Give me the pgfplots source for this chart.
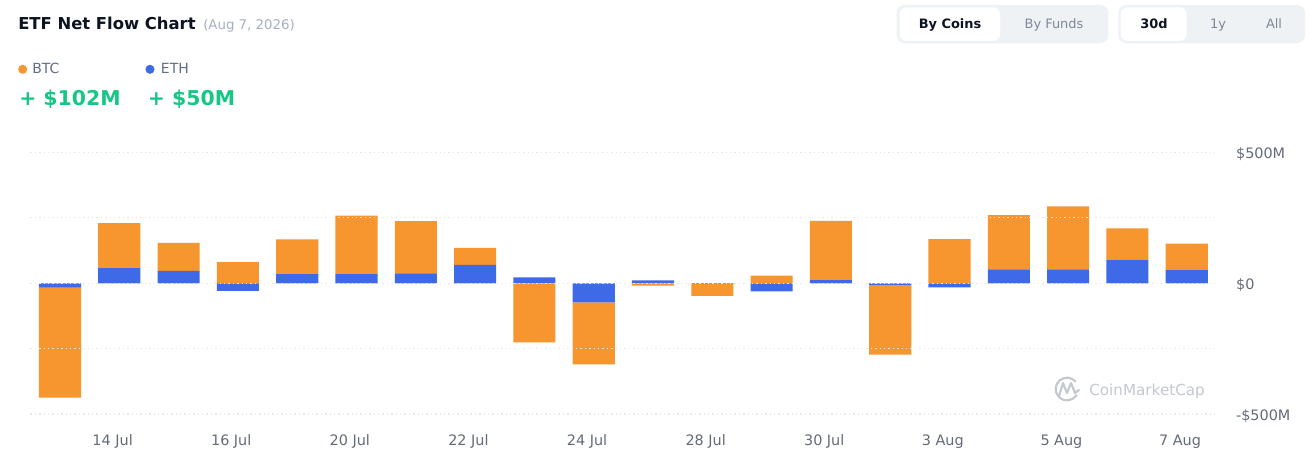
\documentclass[border=0pt]{standalone}
\usepackage{pgfplots}
\pgfplotsset{compat=1.18}
\usepackage{fontspec}
\setmainfont{DejaVu Sans}
\definecolor{btc}{RGB}{247,149,46}
\definecolor{eth}{RGB}{62,106,232}
\definecolor{titlec}{HTML}{0D1421}
\definecolor{datec}{HTML}{A6B0C3}
\definecolor{labc}{HTML}{616E85}
\definecolor{tickc}{HTML}{646B78}
\definecolor{greenc}{HTML}{16C784}
\definecolor{btnbg}{HTML}{EFF2F5}
\definecolor{btntx}{HTML}{7F8899}
\definecolor{gridc}{HTML}{E6E8EC}
\definecolor{wmc}{HTML}{C4C8CF}
\pgfplotsset{
  base/.style={
    at={(22.76pt,43.5pt)}, anchor=south west,
    scale only axis, width=889.5pt, height=196.1pt,
    xmin=-0.5, xmax=19.5, ymin=-500, ymax=500,
    ybar stacked, bar width=0.71,
    axis line style={draw=none},
    major tick length=0pt, minor tick length=0pt,
    clip=false,
  }
}
\begin{document}
\begin{tikzpicture}
\fill[white] (0,0) rectangle (984pt,354pt);
\path[use as bounding box] (0,0) rectangle (984pt,354pt);

% ---------- header (pixel coordinates, y downward) ----------
\begin{scope}[shift={(0,354pt)}, x=0.75pt, y=-0.75pt]
  \node[anchor=base west, inner sep=0, text=titlec, font=\fontsize{12.3pt}{15pt}\selectfont\bfseries] at (18,30) {ETF Net Flow Chart};
  \node[anchor=base west, inner sep=0, text=datec, font=\fontsize{10pt}{12pt}\selectfont] at (203,30) {(Aug 7, 2026)};
  \fill[btc] (22.7,69.3) circle[radius=3.4pt];
  \node[anchor=base west, inner sep=0, text=labc, font=\fontsize{10.5pt}{12pt}\selectfont] at (32,74) {BTC};
  \fill[eth] (150,69.3) circle[radius=3.4pt];
  \node[anchor=base west, inner sep=0, text=labc, font=\fontsize{10.5pt}{12pt}\selectfont] at (160.7,74) {ETH};
  \node[anchor=base west, inner sep=0, text=greenc, font=\fontsize{15.3pt}{18pt}\selectfont\bfseries] at (19,106) {+ \$102M};
  \node[anchor=base west, inner sep=0, text=greenc, font=\fontsize{15.3pt}{18pt}\selectfont\bfseries] at (147.7,106) {+ \$50M};
  % buttons
  \fill[btnbg, rounded corners=6pt] (896.7,5) rectangle (1108.3,43.3);
  \fill[white, rounded corners=5pt] (899.5,7.5) rectangle (1000,40.8);
  \node[anchor=base, inner sep=0, text=titlec, font=\fontsize{9.7pt}{11pt}\selectfont\bfseries] at (950,29) {By Coins};
  \node[anchor=base, inner sep=0, text=btntx, font=\fontsize{9.7pt}{11pt}\selectfont] at (1054,29) {By Funds};
  \fill[btnbg, rounded corners=6pt] (1118.3,5) rectangle (1305,43.3);
  \fill[white, rounded corners=5pt] (1120.7,7.5) rectangle (1186.7,40.8);
  \node[anchor=base, inner sep=0, text=titlec, font=\fontsize{9.7pt}{11pt}\selectfont\bfseries] at (1154,29) {30d};
  \node[anchor=base, inner sep=0, text=btntx, font=\fontsize{9.7pt}{11pt}\selectfont] at (1218,29) {1y};
  \node[anchor=base, inner sep=0, text=btntx, font=\fontsize{9.7pt}{11pt}\selectfont] at (1274,29) {All};
  % watermark
  \draw[wmc, line width=1.6pt] (1067,389) ++(40:8.5pt) arc[start angle=40, end angle=330, radius=8.5pt];
  \draw[wmc, line width=1.6pt, line join=round, line cap=round] (1059,396) -- (1063,383) -- (1067,393) -- (1071,383) -- (1075,393) -- (1079,390);
  \node[anchor=base west, inner sep=0, text=wmc, font=\fontsize{11.4pt}{13pt}\selectfont] at (1089,395) {CoinMarketCap};
\end{scope}

% ---------- positive parts (stacked: ETH then BTC) ----------
\begin{axis}[base, xtick=\empty, ytick=\empty]
\addplot[fill=eth, draw=none] coordinates {
(0,0) (1,58) (2,47) (3,0) (4,35) (5,35) (6,38) (7,70) (8,23) (9,0)
(10,11) (11,0) (12,0) (13,12) (14,0) (15,0) (16,53) (17,53) (18,90) (19,50)};
\addplot[fill=btc, draw=none] coordinates {
(0,0) (1,172) (2,107) (3,81) (4,133) (5,224) (6,200) (7,65) (8,0) (9,0)
(10,0) (11,0) (12,29) (13,227) (14,0) (15,169) (16,208) (17,241) (18,120) (19,102)};
\end{axis}

% ---------- negative parts (stacked: ETH then BTC) + grid and labels ----------
\begin{axis}[base, axis on top,
  ytick={-500,-250,0,250,500},
  yticklabels={-\$500M,,\$0,,\$500M},
  yticklabel pos=right,
  ymajorgrids,
  grid style={color=gridc, line width=0.9pt, dash pattern=on 1.1pt off 2.2pt},
  yticklabel style={anchor=west, inner sep=0pt, xshift=14.6pt, yshift=-1.5pt, text=tickc, font=\fontsize{10.8pt}{12pt}\selectfont},
  xtick={1,3,5,7,9,11,13,15,17,19},
  xticklabels={14 Jul,16 Jul,20 Jul,22 Jul,24 Jul,28 Jul,30 Jul,3 Aug,5 Aug,7 Aug},
  xticklabel style={anchor=north, inner sep=0pt, xshift=-5pt, yshift=-15.5pt, text=tickc, font=\fontsize{10.8pt}{12pt}\selectfont},
]
\addplot[fill=eth, draw=none] coordinates {
(0,-17) (1,0) (2,0) (3,-29) (4,0) (5,0) (6,0) (7,0) (8,0) (9,-73)
(10,0) (11,-2) (12,-31) (13,0) (14,-8) (15,-16) (16,0) (17,0) (18,0) (19,0)};
\addplot[fill=btc, draw=none] coordinates {
(0,-420) (1,0) (2,0) (3,0) (4,0) (5,0) (6,0) (7,0) (8,-226) (9,-237)
(10,-9) (11,-46) (12,0) (13,0) (14,-265) (15,0) (16,0) (17,0) (18,0) (19,0)};
\end{axis}
\end{tikzpicture}
\end{document}
